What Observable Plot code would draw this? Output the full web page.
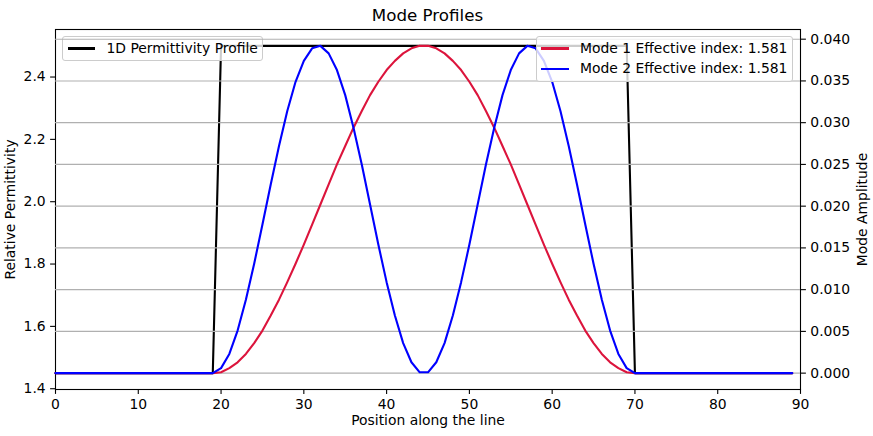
<!DOCTYPE html>
<html>
<head>
<meta charset="utf-8">
<script src="https://cdn.jsdelivr.net/npm/d3@7"></script>
<script src="https://cdn.jsdelivr.net/npm/@observablehq/plot@0.6"></script>
<style>
  html, body { margin: 0; padding: 0; background: #fff; }
  #chart { position: relative; width: 873px; height: 436px; overflow: hidden; font-family: "DejaVu Sans", sans-serif; color: #000; }
  #title { position: absolute; left: 55px; top: 7px; width: 745px; text-align: center; font-size: 16.7px; line-height: 16.7px; white-space: nowrap; }
  .layer { position: absolute; left: 0; top: 24px; }
  .legend { position: absolute; background: rgba(255,255,255,0.8); border: 1px solid #cccccc; border-radius: 3px; padding: 4.6px 4.6px; font-size: 13.9px; white-space: nowrap; }
  .row { display: flex; align-items: center; height: 13.9px; line-height: 13.9px; }
  .row + .row { margin-top: 6.95px; }
  .swatch { width: 27.8px; height: 2.1px; margin-right: 11.1px; flex: none; }
</style>
</head>
<body>
<div id="chart"></div>
<script>
// ---- data ----
const positions = [0,1,2,3,4,5,6,7,8,9,10,11,12,13,14,15,16,17,18,19,20,21,22,23,24,25,26,27,28,29,30,31,32,33,34,35,36,37,38,39,40,41,42,43,44,45,46,47,48,49,50,51,52,53,54,55,56,57,58,59,60,61,62,63,64,65,66,67,68,69,70,71,72,73,74,75,76,77,78,79,80,81,82,83,84,85,86,87,88,89];

const permittivity = [
  1.45,1.45,1.45,1.45,1.45,1.45,1.45,1.45,1.45,1.45,1.45,1.45,1.45,1.45,1.45,1.45,1.45,1.45,1.45,1.45,
  2.5,2.5,2.5,2.5,2.5,2.5,2.5,2.5,2.5,2.5,2.5,2.5,2.5,2.5,2.5,2.5,2.5,2.5,2.5,2.5,2.5,2.5,2.5,2.5,2.5,
  2.5,2.5,2.5,2.5,2.5,2.5,2.5,2.5,2.5,2.5,2.5,2.5,2.5,2.5,2.5,2.5,2.5,2.5,2.5,2.5,2.5,2.5,2.5,2.5,2.5,
  1.45,1.45,1.45,1.45,1.45,1.45,1.45,1.45,1.45,1.45,1.45,1.45,1.45,1.45,1.45,1.45,1.45,1.45,1.45,1.45
];

const mode1 = [
  0,0,0,0,0,0,0,0,0,0,0,0,0,0,0,0,0,0,0,0,
  0.0001,0.0006,0.0013,0.0023,0.0036,0.0051,0.0069,0.0088,0.0109,0.0131,0.0154,0.0178,0.0202,0.0226,0.0250,0.0272,0.0294,0.0314,0.0333,0.0349,0.0363,0.0374,0.0383,0.0389,0.0392,
  0.0392,0.0389,0.0383,0.0374,0.0363,0.0349,0.0333,0.0314,0.0294,0.0272,0.0250,0.0226,0.0202,0.0178,0.0154,0.0131,0.0109,0.0088,0.0069,0.0051,0.0036,0.0023,0.0013,0.0006,0.0001,
  0,0,0,0,0,0,0,0,0,0,0,0,0,0,0,0,0,0,0,0
];

const mode2 = [
  0,0,0,0,0,0,0,0,0,0,0,0,0,0,0,0,0,0,0,0,
  0.0006,0.0023,0.0051,0.0088,0.0131,0.0178,0.0226,0.0272,0.0314,0.0349,0.0374,0.0389,0.0392,0.0383,0.0363,0.0333,0.0294,0.0250,0.0202,0.0154,0.0109,0.0069,0.0036,0.0013,0.0001,
  0.0001,0.0013,0.0036,0.0069,0.0109,0.0154,0.0202,0.0250,0.0294,0.0333,0.0363,0.0383,0.0392,0.0389,0.0374,0.0349,0.0314,0.0272,0.0226,0.0178,0.0131,0.0088,0.0051,0.0023,0.0006,
  0,0,0,0,0,0,0,0,0,0,0,0,0,0,0,0,0,0,0,0
];

const xTicks = [0,10,20,30,40,50,60,70,80,90];
const leftTicks = [1.4,1.6,1.8,2.0,2.2,2.4];
const rightTicks = [0,0.005,0.010,0.015,0.020,0.025,0.030,0.035,0.040];

const titleText = "Mode Profiles";
const xLabel = "Position along the line";
const leftLabel = "Relative Permittivity";
const rightLabel = "Mode Amplitude";
const legendLeft = [{label: "1D Permittivity Profile", color: "black"}];
const legendRight = [
  {label: "Mode 1 Effective index: 1.581", color: "crimson"},
  {label: "Mode 2 Effective index: 1.581", color: "blue"}
];

// ---- build ----
const rows = positions.map((p, i) => ({pos: p, eps: permittivity[i], m1: mode1[i], m2: mode2[i]}));

const W = 873, H = 412;
const frameOpts = {width: W, height: H, marginLeft: 55, marginRight: 73, marginTop: 5, marginBottom: 47};
const font = {fontFamily: "'DejaVu Sans', sans-serif", fontSize: "13.9px", color: "black", overflow: "visible"};

const p1 = Plot.plot({
  ...frameOpts,
  style: {...font, background: "white"},
  x: {domain: [0, 90]},
  y: {domain: [1.3975, 2.5525]},
  marks: [
    Plot.line(rows, {x: "pos", y: "eps", stroke: "black", strokeWidth: 2.1, strokeLinejoin: "round"}),
    Plot.axisX({ticks: xTicks, tickSize: 4.9, tickPadding: 4.9, tickFormat: d => String(d), label: null, strokeWidth: 1.1}),
    Plot.axisY({ticks: leftTicks, tickSize: 4.9, tickPadding: 4.9, tickFormat: d3.format(".1f"), label: null, strokeWidth: 1.1}),
    Plot.frame({stroke: "black", strokeWidth: 1.1}),
    Plot.text([xLabel], {text: d => d, frameAnchor: "bottom", dy: 35, fill: "black", textAnchor: "middle"}),
    Plot.text([leftLabel], {text: d => d, frameAnchor: "left", dx: -44.5, rotate: -90, fill: "black", textAnchor: "middle"})
  ]
});

const p2 = Plot.plot({
  ...frameOpts,
  style: {...font, background: "transparent"},
  x: {domain: [0, 90], axis: null},
  y: {domain: [-0.00196, 0.04116]},
  marks: [
    Plot.gridY(rightTicks, {stroke: "#b0b0b0", strokeOpacity: 1, strokeWidth: 1.1}),
    Plot.line(rows, {x: "pos", y: "m1", stroke: "crimson", strokeWidth: 2.1, strokeLinejoin: "round"}),
    Plot.line(rows, {x: "pos", y: "m2", stroke: "blue", strokeWidth: 2.1, strokeLinejoin: "round"}),
    Plot.axisY({anchor: "right", ticks: rightTicks, tickSize: 4.9, tickPadding: 4.9, tickFormat: d3.format(".3f"), label: null, strokeWidth: 1.1}),
    Plot.text([rightLabel], {text: d => d, frameAnchor: "right", dx: 62, rotate: -90, fill: "black", textAnchor: "middle"})
  ]
});

function makeLegend(items, pos) {
  const box = document.createElement("div");
  box.className = "legend";
  Object.assign(box.style, pos);
  for (const it of items) {
    const row = document.createElement("div");
    row.className = "row";
    const sw = document.createElement("div");
    sw.className = "swatch";
    sw.style.background = it.color;
    const tx = document.createElement("span");
    tx.textContent = it.label;
    row.appendChild(sw);
    row.appendChild(tx);
    box.appendChild(row);
  }
  return box;
}

const chart = document.getElementById("chart");
const l1 = document.createElement("div"); l1.className = "layer"; l1.appendChild(p1);
const l2 = document.createElement("div"); l2.className = "layer"; l2.appendChild(p2);
chart.appendChild(l1);
chart.appendChild(makeLegend(legendLeft, {left: "62px", top: "36px"}));
chart.appendChild(l2);
chart.appendChild(makeLegend(legendRight, {right: "80px", top: "36px"}));
const t = document.createElement("div"); t.id = "title"; t.textContent = titleText;
chart.appendChild(t);
</script>
</body>
</html>
